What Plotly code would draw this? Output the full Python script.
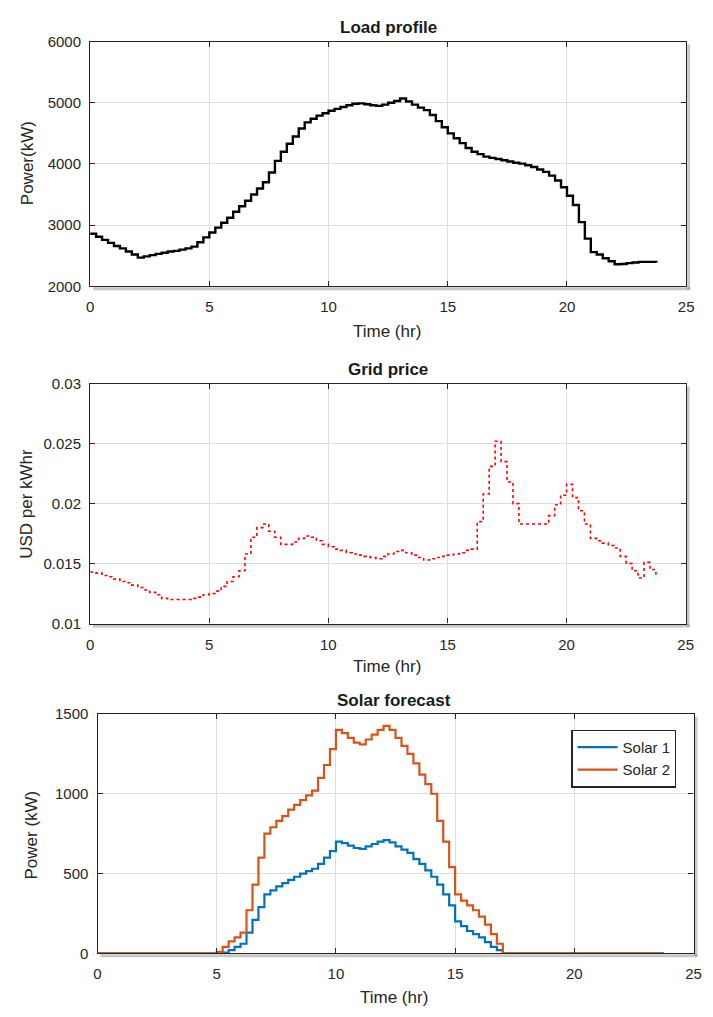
import numpy as np
import plotly.graph_objects as go
from plotly.subplots import make_subplots

# ---------------- data (15-minute resolution, 96 samples over 24 h) ----------------
n_steps = 96
time_hr = np.arange(n_steps) * 0.25

load_kw = [
    2860, 2810, 2760, 2710, 2660, 2620, 2570, 2520,
    2470, 2490, 2510, 2530, 2550, 2570, 2580, 2600,
    2620, 2650, 2720, 2800, 2880, 2960, 3040, 3120,
    3220, 3310, 3400, 3500, 3600, 3700, 3860, 4050,
    4200, 4330, 4450, 4580, 4680, 4740, 4790, 4830,
    4870, 4900, 4930, 4960, 4985, 4990, 4975, 4960,
    4950, 4970, 5000, 5030, 5070, 5020, 4970, 4920,
    4880, 4800, 4700, 4600, 4500, 4420, 4340, 4260,
    4200, 4160, 4120, 4100, 4080, 4060, 4040, 4020,
    4005, 3980, 3950, 3910, 3870, 3810, 3730, 3620,
    3480, 3330, 3050, 2780, 2560, 2520, 2460, 2410,
    2360, 2365, 2380, 2390, 2400, 2400, 2400, 2390,
]

grid_price = [
    0.0143, 0.0142, 0.0140, 0.0139, 0.0137, 0.0135, 0.0134, 0.0132,
    0.0130, 0.0128, 0.0126, 0.0124, 0.0121, 0.0120, 0.0120, 0.0120,
    0.0120, 0.0121, 0.0122, 0.0124, 0.0125, 0.0127, 0.0131, 0.0135,
    0.0139, 0.0144, 0.0158, 0.0172, 0.0180, 0.0183, 0.0177, 0.0172,
    0.0166, 0.0166, 0.0168, 0.0171, 0.0173, 0.0172, 0.0169, 0.0166,
    0.0164, 0.0162, 0.0161, 0.0159, 0.0158, 0.0157, 0.0156, 0.0155,
    0.0154, 0.0156, 0.0158, 0.0160, 0.0161, 0.0159, 0.0157, 0.0155,
    0.0153, 0.0154, 0.0155, 0.0156, 0.0157, 0.0158, 0.0159, 0.0161,
    0.0162, 0.0185, 0.0208, 0.0231, 0.0252, 0.0235, 0.0218, 0.0200,
    0.0183, 0.0183, 0.0183, 0.0183, 0.0183, 0.0190, 0.0199, 0.0207,
    0.0216, 0.0205, 0.0194, 0.0183, 0.0171, 0.0169, 0.0167, 0.0165,
    0.0163, 0.0156, 0.0150, 0.0144, 0.0138, 0.0151, 0.0145, 0.0138,
]

solar1_kw = [
    0, 0, 0, 0, 0, 0, 0, 0, 0, 0, 0, 0, 0, 0, 0, 0, 0, 0, 0, 0,
    0, 5, 20, 40, 60, 130, 210, 290,
    370, 395, 420, 440, 460, 480, 500, 515,
    530, 560, 600, 640, 700, 690, 675, 660,
    655, 670, 685, 700, 710, 695, 670, 650,
    630, 590, 560, 520, 480, 430, 370, 300,
    200, 170, 140, 120, 100, 70, 40, 20,
    0, 0, 0, 0, 0, 0, 0, 0, 0, 0, 0, 0, 0, 0, 0, 0,
    0, 0, 0, 0, 0, 0, 0, 0, 0, 0, 0, 0,
]

solar2_kw = [
    0, 0, 0, 0, 0, 0, 0, 0, 0, 0, 0, 0, 0, 0, 0, 0, 0, 0, 0, 0,
    10, 40, 75, 100, 130, 270, 430, 600,
    750, 790, 830, 860, 900, 930, 960, 990,
    1020, 1100, 1180, 1280, 1400, 1380, 1350, 1320,
    1310, 1340, 1370, 1400, 1425, 1400, 1350, 1300,
    1250, 1190, 1120, 1060, 1000, 830, 700, 540,
    370, 330, 300, 270, 230, 180, 120, 60,
    0, 0, 0, 0, 0, 0, 0, 0, 0, 0, 0, 0, 0, 0, 0, 0,
    0, 0, 0, 0, 0, 0, 0, 0, 0, 0, 0, 0,
]

x_ticks = [0, 5, 10, 15, 20, 25]

# ---------------- figure ----------------
# the page body keeps its default 8 px margin, so the figure is 16 px smaller than the window
OFF = 8
W, H = 713 - 2 * OFF, 1017 - 2 * OFF
FONT = "Liberation Sans, Arial, sans-serif"
TXT = "#262626"


def fx(px):
    return (px - OFF) / W


def fy(py):
    return 1 - (py - OFF) / H


fig = make_subplots(rows=3, cols=1)

fig.add_trace(go.Scatter(x=time_hr, y=load_kw, mode="lines", line=dict(color="black", width=2.4, shape="hv"),
                         showlegend=False), row=1, col=1)
fig.add_trace(go.Scatter(x=time_hr, y=grid_price, mode="lines",
                         line=dict(color="#ff0000", width=1.6, shape="hv", dash="dot"),
                         showlegend=False), row=2, col=1)
fig.add_trace(go.Scatter(x=time_hr, y=solar1_kw, mode="lines", name="Solar 1",
                         line=dict(color="#0072BD", width=2.2, shape="hv")), row=3, col=1)
fig.add_trace(go.Scatter(x=time_hr, y=solar2_kw, mode="lines", name="Solar 2",
                         line=dict(color="#D95319", width=2.2, shape="hv")), row=3, col=1)

axis_common = dict(showline=True, linecolor=TXT, linewidth=1.2, mirror="ticks", ticks="inside",
                   ticklen=5, tickcolor=TXT, showgrid=True, gridcolor="#dedede", gridwidth=1,
                   zeroline=False, tickfont=dict(family=FONT, size=15, color=TXT))

boxes = [  # left, right, top, bottom in page pixels
    (87.5, 694, 33, 282),
    (87.5, 693.5, 381, 625),
    (95, 701.5, 717, 960.5),
]
yranges = [[2000, 6000], [0.01, 0.03], [0, 1500]]
ydticks = [1000, 0.005, 500]

shapes = []
for i, ((l, r, t, b), yr, dt) in enumerate(zip(boxes, yranges, ydticks), start=1):
    fig.update_xaxes(domain=[fx(l), fx(r)], range=[0, 25], tickvals=x_ticks, ticklabelstandoff=7,
                     row=i, col=1, **axis_common)
    fig.update_yaxes(domain=[fy(b), fy(t)], range=yr, dtick=dt, tick0=yr[0], ticklabelstandoff=5,
                     row=i, col=1, **axis_common)
    # soft drop shadow on the right and bottom of each axes box
    shapes.append(dict(type="line", xref="paper", yref="paper", x0=fx(r + 2.5), x1=fx(r + 2.5),
                       y0=fy(b + 3), y1=fy(t + 3), line=dict(color="rgba(0,0,0,0.22)", width=3)))
    shapes.append(dict(type="line", xref="paper", yref="paper", x0=fx(l + 3), x1=fx(r + 4),
                       y0=fy(b + 2.5), y1=fy(b + 2.5), line=dict(color="rgba(0,0,0,0.22)", width=3)))

annotations = []
titles = [("Load profile", 391, 19), ("Grid price", 391, 367), ("Solar forecast", 397, 703.5)]
for text, cx, cy in titles:
    annotations.append(dict(text=f"<b>{text}</b>", x=fx(cx), y=fy(cy), xref="paper", yref="paper",
                            showarrow=False, xanchor="center", yanchor="middle",
                            font=dict(family=FONT, size=17, color="#1a1a1a")))
xlabels = [(390, 328), (390, 669), (397, 1005)]
for cx, cy in xlabels:
    annotations.append(dict(text="Time (hr)", x=fx(cx), y=fy(cy), xref="paper", yref="paper",
                            showarrow=False, xanchor="center", yanchor="middle",
                            font=dict(family=FONT, size=17, color=TXT)))
ylabels = [("Power(kW)", 24, 157), ("USD per kWhr", 22.5, 503), ("Power (kW)", 28, 840)]
for text, cx, cy in ylabels:
    annotations.append(dict(text=text, x=fx(cx), y=fy(cy), xref="paper", yref="paper",
                            showarrow=False, xanchor="center", yanchor="middle", textangle=-90,
                            font=dict(family=FONT, size=17, color=TXT)))

fig.update_layout(
    width=W, height=H,
    margin=dict(l=0, r=0, t=0, b=0),
    paper_bgcolor="white", plot_bgcolor="white",
    annotations=annotations,
    shapes=shapes,
    legend=dict(x=fx(684), y=fy(733), xanchor="right", yanchor="top",
                bgcolor="white", bordercolor=TXT, borderwidth=1.2,
                font=dict(family=FONT, size=15, color=TXT),
                tracegroupgap=0, itemwidth=40),
    font=dict(family=FONT, color=TXT),
)

fig.write_html("out.html", config={"displayModeBar": False})
